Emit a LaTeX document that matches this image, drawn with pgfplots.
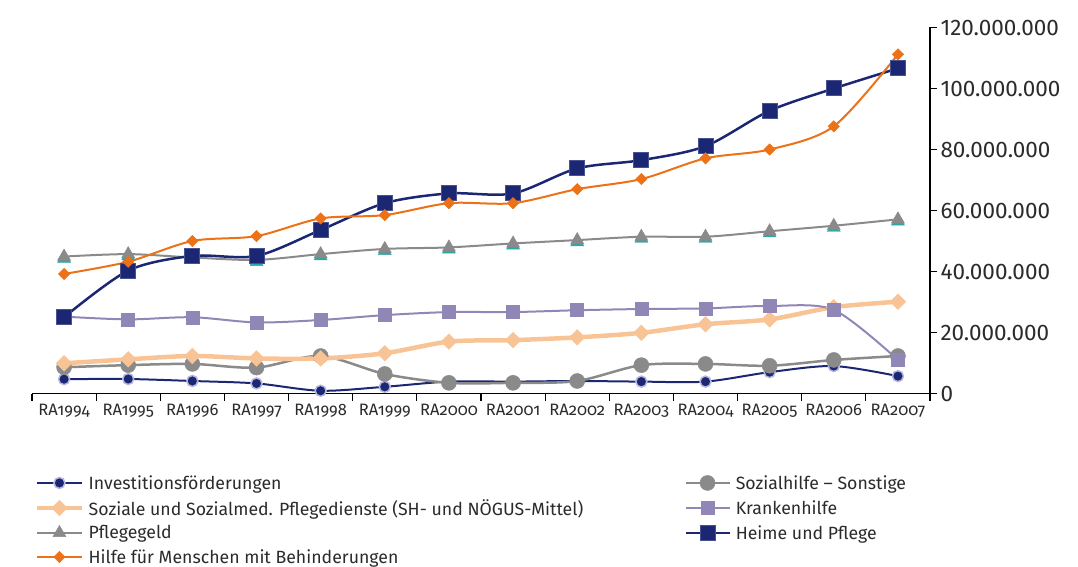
\documentclass[border=0pt]{standalone}
\usepackage{fontspec}
\setmainfont{Fira Sans}
\usepackage{pgfplots}
\pgfplotsset{compat=1.18}
\definecolor{navy}{HTML}{1C2774}
\definecolor{halo}{HTML}{B4B8DE}
\definecolor{lorange}{HTML}{F9C495}
\definecolor{dorange}{HTML}{EC7117}
\definecolor{mgrey}{HTML}{8A8A8A}
\definecolor{lpurple}{HTML}{9087B6}
\definecolor{teal}{HTML}{2FA6AA}
\definecolor{txt}{HTML}{2B2B2B}
\begin{document}
\begin{tikzpicture}
\path[use as bounding box] (-32pt,-173.5pt) rectangle (1046pt,393.5pt);
\begin{axis}[
  scale only axis, width=898pt, height=366pt,
  xmin=-0.5, xmax=13.5, ymin=0, ymax=120000000,
  axis x line*=bottom, axis y line*=right,
  axis line style={line width=1.2pt, black},
  tick style={line width=1.2pt, black},
  tick align=outside, major tick length=7pt,
  xtick={-0.5,0.5,...,13.5}, xticklabels={},
  extra x ticks={0,1,...,13},
  extra x tick labels={RA1994,RA1995,RA1996,RA1997,RA1998,RA1999,RA2000,RA2001,RA2002,RA2003,RA2004,RA2005,RA2006,RA2007},
  extra x tick style={major tick length=0pt, tick style={draw=none}},
  xticklabel style={font=\fontsize{16.5}{19}\selectfont\addfontfeature{Numbers=OldStyle}, yshift=-7pt, text=txt},
  ytick={0,20000000,40000000,60000000,80000000,100000000,120000000},
  scaled y ticks=false,
  yticklabel style={/pgf/number format/.cd, fixed, precision=0, 1000 sep={.}, assume math mode=true, /tikz/.cd, font=\fontsize{22.5}{25}\selectfont, text=txt},
  clip=false,
  legend columns=2,
  legend cell align=left,
  legend style={at={(0,-0.212)}, anchor=north west, draw=none, fill=none,
    font=\fontsize{17.7}{21}\selectfont, text=txt,
    nodes={inner xsep=5pt, inner ysep=2pt},
    row sep=4.7pt,
    /tikz/every even column/.append style={column sep=96pt}},
  legend image code/.code={\draw[#1, mark repeat=2, mark phase=2] plot coordinates {(0pt,0pt) (22pt,0pt) (44pt,0pt)};},
]
% Investitionsfoerderungen
\addplot[navy, line width=2pt, smooth, mark=*, mark size=5.5pt, mark options={fill=navy, draw=halo, line width=1.5pt}] coordinates {
(0,4700000) (1,4750000) (2,4100000) (3,3300000) (4,900000) (5,2200000) (6,3900000) (7,3900000) (8,4100000) (9,3900000) (10,3900000) (11,7000000) (12,9000000) (13,5700000)};
\addlegendentry{Investitionsförderungen}
% Sozialhilfe - Sonstige
\addplot[mgrey, line width=2.5pt, smooth, mark=*, mark size=7.5pt, mark options={fill=mgrey, draw=mgrey, line width=0.5pt}] coordinates {
(0,8600000) (1,9300000) (2,9700000) (3,8500000) (4,12300000) (5,6400000) (6,3500000) (7,3500000) (8,4100000) (9,9300000) (10,9700000) (11,9100000) (12,11000000) (13,12300000)};
\addlegendentry{Sozialhilfe – Sonstige}
% Soziale und Sozialmed. Pflegedienste
\addplot[lorange, line width=4.5pt, smooth, mark=square*, mark size=5.5pt, mark options={rotate=45, fill=lorange, draw=lorange, line width=0.5pt}] coordinates {
(0,9900000) (1,11200000) (2,12300000) (3,11500000) (4,11500000) (5,13200000) (6,17000000) (7,17500000) (8,18400000) (9,19900000) (10,22700000) (11,24300000) (12,28300000) (13,30100000)};
\addlegendentry{Soziale und Sozialmed. Pflegedienste (SH- und NÖGUS-Mittel)}
% Krankenhilfe
\addplot[lpurple, line width=2pt, smooth, mark=square*, mark size=6.5pt, mark options={fill=lpurple, draw=lpurple, line width=0.5pt}] coordinates {
(0,25200000) (1,24300000) (2,25000000) (3,23300000) (4,24100000) (5,25700000) (6,26700000) (7,26700000) (8,27300000) (9,27700000) (10,27900000) (11,28700000) (12,27400000) (13,11000000)};
\addlegendentry{Krankenhilfe}
% Pflegegeld shadow
\addplot[only marks, forget plot, mark=triangle*, mark size=7.5pt, mark options={fill=teal, draw=teal, yshift=-2pt}] coordinates {
(0,44900000) (1,45700000) (2,44600000) (3,43800000) (4,45700000) (5,47400000) (6,47900000) (7,49200000) (8,50300000) (9,51400000) (10,51400000) (11,53200000) (12,55000000) (13,57100000)};
% Pflegegeld
\addplot[mgrey, line width=2pt, smooth, mark=triangle*, mark size=7.5pt, mark options={fill=mgrey, draw=mgrey, line width=0.5pt}] coordinates {
(0,44900000) (1,45700000) (2,44600000) (3,43800000) (4,45700000) (5,47400000) (6,47900000) (7,49200000) (8,50300000) (9,51400000) (10,51400000) (11,53200000) (12,55000000) (13,57100000)};
\addlegendentry{Pflegegeld}
% Heime und Pflege
\addplot[navy, line width=2.5pt, smooth, mark=square*, mark size=7.5pt, mark options={fill=navy, draw=navy!80!white, line width=1pt}] coordinates {
(0,25000000) (1,40300000) (2,45100000) (3,45100000) (4,53600000) (5,62400000) (6,65600000) (7,65600000) (8,73800000) (9,76500000) (10,81100000) (11,92700000) (12,100000000) (13,106600000)};
\addlegendentry{Heime und Pflege}
% Hilfe fuer Menschen mit Behinderungen
\addplot[dorange, line width=2pt, smooth, mark=square*, mark size=4pt, mark options={rotate=45, fill=dorange, draw=dorange, line width=0.5pt}] coordinates {
(0,39200000) (1,43200000) (2,50000000) (3,51600000) (4,57400000) (5,58500000) (6,62400000) (7,62400000) (8,67000000) (9,70300000) (10,77100000) (11,80000000) (12,87600000) (13,111200000)};
\addlegendentry{Hilfe für Menschen mit Behinderungen}
\end{axis}
\end{tikzpicture}
\end{document}
